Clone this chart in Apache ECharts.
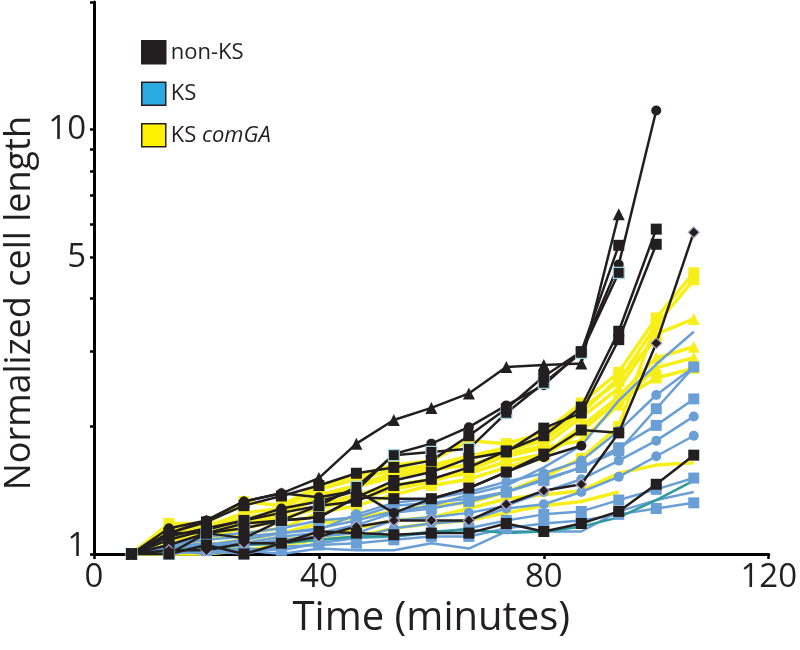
<!DOCTYPE html>
<html><head><meta charset="utf-8">
<script src="https://cdn.jsdelivr.net/npm/echarts@6/dist/echarts.min.js"></script>
<style>html,body{margin:0;padding:0;background:#fff}#c{width:800px;height:650px}</style>
</head><body><div id="c"></div>
<script>
// ---- data ----
const times = [6.67, 13.33, 20, 26.67, 33.33, 40, 46.67, 53.33, 60, 66.67, 73.33, 80, 86.67, 93.33, 100, 106.67];
const xTicks = [0, 40, 80, 120];
const yTickValues = [1, 2, 3, 4, 5, 6, 7, 8, 9, 10, 20];
const yLabelValues = [1, 5, 10];
const legendNames = ['non-KS', 'KS', 'KS comGA'];

// non-KS (black)
const nk1 = [1, 1.12, 1.2, 1.33, 1.39, 1.51, 1.82, 2.07, 2.21, 2.39, 2.76, 2.79, 2.81, 6.32, null, null];
const nk2 = [1, 1.1, 1.15, 1.2, 1.28, 1.33, 1.41, 1.72, 1.82, 1.99, 2.24, 2.5, 3.0, 4.81, 11.1, null];
const nk3 = [1, 1.0, 1.12, 1.18, 1.2, 1.3, 1.44, 1.71, 1.74, 1.77, 2.15, 2.53, 2.98, 4.6, null, null];
const nk4 = [1, 1.12, 1.19, 1.3, 1.37, 1.45, 1.55, 1.6, 1.66, 1.9, 2.2, 2.62, 3.0, 5.34, null, null];
const nk5 = [1, 1.05, 1.12, 1.15, 1.2, 1.22, 1.36, 1.49, 1.56, 1.68, 1.74, 1.98, 2.15, 3.2, 5.37, null];
const nk6 = [1, 1.08, 1.14, 1.2, 1.25, 1.3, 1.33, 1.45, 1.5, 1.6, 1.75, 1.9, 2.22, 3.35, 5.83, null];
const nk7 = [1, 1.02, 1.02, 1.06, 1.06, 1.1, 1.16, 1.2, 1.2, 1.2, 1.31, 1.41, 1.46, 1.93, 3.14, 5.73];
const nk8 = [1, 1.12, 1.12, 1.09, 1.2, 1.22, 1.36, 1.35, 1.35, 1.43, 1.56, 1.72, 1.96, 1.93, null, null];
const nk9 = [1, 1.0, 1.05, 1.0, 1.06, 1.13, 1.12, 1.11, 1.12, 1.12, 1.18, 1.13, 1.18, 1.26, 1.46, 1.71];
const nk10 = [1, 1.15, 1.2, 1.33, 1.39, 1.36, 1.41, 1.25, 1.35, 1.43, 1.56, 1.69, 1.8, null, null, null];

// KS (blue)
const ks1 = [1, 1.03, 1.05, 1.08, 1.12, 1.15, 1.2, 1.26, 1.3, 1.38, 1.45, 1.6, 1.8, 2.3, 2.8, 3.34];
const ks2 = [1, 1.05, 1.08, 1.1, 1.12, 1.14, 1.24, 1.32, 1.35, 1.4, 1.48, 1.55, 1.66, 1.95, 2.37, 2.76];
const ks3 = [1, 1.02, 1.05, 1.06, 1.1, 1.12, 1.17, 1.25, 1.28, 1.33, 1.4, 1.49, 1.6, 1.78, 2.01, 2.32];
const ks4 = [1, 1.0, 1.04, 1.05, 1.08, 1.1, 1.12, 1.2, 1.22, 1.25, 1.3, 1.4, 1.5, 1.66, 1.85, 2.11];
const ks5 = [1, 1.04, 1.06, 1.05, 1.06, 1.08, 1.09, 1.15, 1.18, 1.2, 1.28, 1.31, 1.4, 1.52, 1.7, 1.9];
const ks6 = [1, 1.0, 1.02, 1.03, 1.02, 1.06, 1.09, 1.1, 1.12, 1.15, 1.2, 1.24, 1.26, 1.34, 1.42, 1.51];
const ks7 = [1, 1.02, 1.0, 1.02, 1.0, 1.03, 1.02, 1.02, 1.06, 1.03, 1.13, 1.13, 1.13, 1.26, 1.34, 1.40];
const ks8 = [1, 1.0, 1.02, 1.0, 1.04, 1.05, 1.06, 1.08, 1.1, 1.1, 1.15, 1.18, 1.2, 1.24, 1.28, 1.32];
const ks9 = [1, 1.02, 1.03, 1.05, 1.06, 1.08, 1.1, 1.1, 1.13, 1.14, 1.12, 1.13, 1.16, 1.22, 1.34, 1.49];
const ks10 = [1, 1.05, 1.1, 1.12, 1.15, 1.2, 1.22, 1.3, 1.32, 1.35, 1.4, 1.5, 1.6, 1.75, 2.2, 2.76];

// KS comGA (yellow)
const kc1 = [1, 1.18, 1.18, 1.33, 1.3, 1.45, 1.53, 1.62, 1.66, 1.85, 1.82, 1.93, 2.27, 2.68, 3.6, 4.6];
const kc2 = [1, 1.15, 1.16, 1.25, 1.28, 1.42, 1.5, 1.58, 1.62, 1.7, 1.78, 1.88, 2.2, 2.55, 3.47, 4.43];
const kc3 = [1, 1.1, 1.12, 1.2, 1.24, 1.35, 1.44, 1.52, 1.58, 1.62, 1.72, 1.8, 2.1, 2.46, 3.3, 3.58];
const kc4 = [1, 1.08, 1.1, 1.15, 1.2, 1.3, 1.38, 1.45, 1.5, 1.55, 1.65, 1.72, 2.0, 2.35, 2.9, 3.08];
const kc5 = [1, 1.05, 1.08, 1.12, 1.15, 1.25, 1.3, 1.38, 1.45, 1.5, 1.6, 1.7, 1.95, 2.3, 2.6, 2.74];
const kc6 = [1, 1.0, 1.0, 1.05, 1.08, 1.1, 1.15, 1.2, 1.22, 1.28, 1.35, 1.38, 1.41, 1.55, 1.62, 1.64];
const kc7 = [1, 1.02, 1.05, 1.08, 1.12, 1.18, 1.22, 1.26, 1.3, 1.32, 1.4, 1.52, 1.68, 2.0, 3.5, null];
const kc8 = [1, 1.0, 1.0, 1.02, 1.05, 1.08, 1.1, 1.15, 1.18, 1.2, 1.25, 1.3, 1.33, 1.4, null, null];
const kc9 = [1, 1.12, 1.15, 1.22, 1.25, 1.38, 1.45, 1.55, 1.6, 1.68, 1.75, 1.85, 2.15, 2.6, 3.2, null];
const kc10 = [1, 1.05, 1.1, 1.18, 1.22, 1.28, 1.35, 1.42, 1.48, 1.58, 1.7, 1.78, 1.85, 2.25, 2.75, 2.9];

// ---- styles (not data) ----
const BLACK = '#231f20', BLUE = '#6a9fd6', TEAL = '#2f9a9c', YELLOW = '#f7ef1a';
const groups = [
  {name: 'KS comGA', color: YELLOW, width: 3.5, list: [
    [kc1,'rect'],[kc2,'rect'],[kc3,'triangle'],[kc4,'triangle'],[kc5,'rect'],[kc6,'none'],[kc7,'rect'],[kc8,'none'],[kc9,'rect'],[kc10,'triangle']]},
  {name: 'KS', color: BLUE, width: 2.5, list: [
    [ks1,'none'],[ks2,'circle'],[ks3,'rect'],[ks4,'circle'],[ks5,'circle'],[ks6,'rect'],[ks7,'none'],[ks8,'rect'],[ks9,'none',TEAL],[ks10,'rect']]},
  {name: 'non-KS', color: BLACK, width: 2.5, list: [
    [nk1,'triangle'],[nk2,'circle'],[nk3,'rect','#9fd3e0'],[nk4,'rect'],[nk5,'rect'],[nk6,'rect'],[nk7,'diamond','#b8a8c8'],[nk8,'rect'],[nk9,'rect'],[nk10,'circle']]}
];

const series = [];
groups.forEach(g => {
  g.list.forEach(item => {
    const vals = item[0], sym = item[1], extra = item[2];
    const data = [];
    times.forEach((t, i) => { if (vals[i] != null) data.push([t, vals[i]]); });
    const isBlack = g.color === BLACK;
    const c = (!isBlack && extra) ? extra : g.color;
    series.push({
      type: 'line', name: g.name, data: data,
      symbol: sym, symbolSize: sym === 'triangle' ? 12 : (sym === 'circle' ? 10 : 11),
      lineStyle: {color: c, width: g.width},
      itemStyle: {color: c, borderColor: isBlack && extra ? extra : c, borderWidth: isBlack && extra ? 1.2 : 0},
      emphasis: {disabled: true}, z: isBlack ? 4 : (g.color === BLUE ? 3 : 2)
    });
  });
});

const chart = echarts.init(document.getElementById('c'), null, {renderer: 'canvas'});
const FONT = 'Open Sans';
chart.setOption({
  animation: false,
  backgroundColor: '#fff',
  textStyle: {fontFamily: FONT},
  grid: {left: 94, right: 29, top: 2, bottom: 96, containLabel: false},
  legend: {
    orient: 'vertical', left: 136, top: 35, itemWidth: 24, itemHeight: 23, itemGap: 17,
    selectedMode: false,
    textStyle: {fontFamily: FONT, fontSize: 22, color: BLACK,
      rich: {n: {fontFamily: FONT, fontSize: 22, color: BLACK}, i: {fontFamily: FONT, fontSize: 22, color: BLACK, fontStyle: 'italic'}}},
    formatter: function (name) { return name === 'KS comGA' ? '{n|KS }{i|comGA}' : '{n|' + name + '}'; },
    data: [
      {name: legendNames[0], icon: 'rect', itemStyle: {color: BLACK, borderColor: BLACK, borderWidth: 1.5}},
      {name: legendNames[1], icon: 'rect', itemStyle: {color: '#29abe2', borderColor: BLACK, borderWidth: 1.5}},
      {name: legendNames[2], icon: 'rect', itemStyle: {color: '#fff200', borderColor: BLACK, borderWidth: 1.5}}
    ]
  },
  xAxis: {
    type: 'value', min: xTicks[0], max: xTicks[xTicks.length - 1], interval: 40,
    name: 'Time (minutes)', nameLocation: 'middle', nameGap: 20,
    nameTextStyle: {fontFamily: FONT, fontSize: 40, color: BLACK},
    axisLine: {show: true, lineStyle: {color: '#000', width: 3}},
    axisTick: {show: true, length: 5, inside: false, lineStyle: {color: '#000', width: 2.5}},
    axisLabel: {fontFamily: FONT, fontSize: 33, color: BLACK, margin: 7},
    splitLine: {show: false}
  },
  yAxis: {
    type: 'log', logBase: 10, min: 1, max: 20,
    axisLine: {show: true, lineStyle: {color: '#000', width: 3}},
    axisTick: {show: true, length: 4, lineStyle: {color: '#000', width: 2.5}, customValues: yTickValues},
    axisLabel: {fontFamily: FONT, fontSize: 33, color: BLACK, margin: 8, customValues: yLabelValues,
      formatter: function (v) { return v === 1 ? '{up|1}' : String(v); },
      rich: {up: {fontFamily: FONT, fontSize: 33, color: BLACK, padding: [0, 0, 14, 0]}}},
    splitLine: {show: false}
  },
  graphic: [{
    type: 'text', left: 2, top: 116, rotation: Math.PI / 2,
    style: {text: 'Normalized cell length', font: '36px "Open Sans"', fill: BLACK}
  }],
  series: series
});
</script>
</body></html>
